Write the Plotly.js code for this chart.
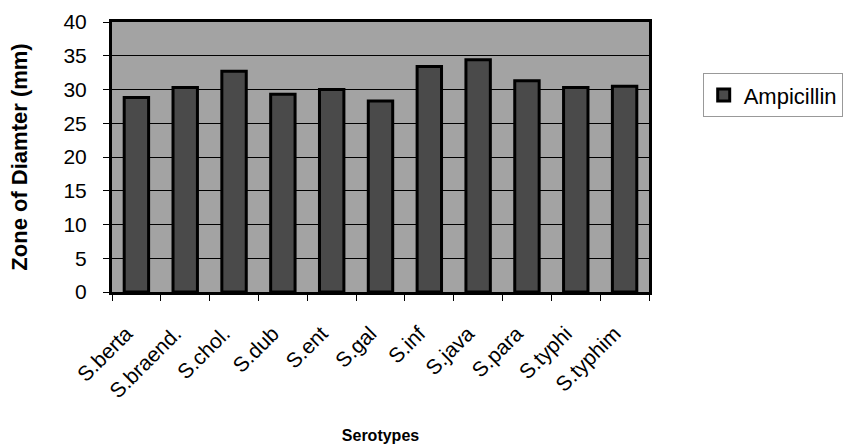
<!DOCTYPE html>
<html>
<head>
<meta charset="utf-8">
<script src="https://cdn.plot.ly/plotly-3.0.1.min.js"></script>
<style>html,body{margin:0;padding:0;background:#fff;}#chart{width:855px;height:444px;}</style>
</head>
<body>
<div id="chart"></div>
<script>
var categories = ["S.berta", "S.braend.", "S.chol.", "S.dub", "S.ent", "S.gal", "S.inf", "S.java", "S.para", "S.typhi", "S.typhim"];
var ampicillin = [28.8, 30.3, 32.7, 29.3, 30.0, 28.3, 33.4, 34.4, 31.3, 30.3, 30.5];
var yTickValues = [0, 5, 10, 15, 20, 25, 30, 35, 40];

var font = "Liberation Sans, Arial, sans-serif";

var traces = [{
  type: "bar",
  name: "Ampicillin",
  x: categories,
  y: ampicillin,
  marker: {color: "#4a4a4a", line: {color: "#000", width: 3}},
  hoverinfo: "x+y"
}];

var layout = {
  width: 855, height: 444,
  margin: {l: 112, r: 203, t: 22, b: 152},
  paper_bgcolor: "#fff",
  plot_bgcolor: "#a3a3a3",
  bargap: 0.5,
  showlegend: true,
  legend: {
    x: 1.1, xanchor: "left", y: 0.81, yanchor: "top",
    font: {family: font, size: 22, color: "#000"},
    bordercolor: "#999", borderwidth: 1, bgcolor: "#fff",
    itemwidth: 30
  },
  xaxis: {
    type: "category",
    tickangle: -45,
    tickson: "boundaries",
    ticks: "outside", ticklen: 6, tickcolor: "#000", tickwidth: 1,
    tickfont: {family: font, size: 21, color: "#000"},
    ticklabelstandoff: 18,
    ticklabelshift: -10,
    showline: true, linecolor: "#000", linewidth: 3, mirror: true,
    showgrid: false,
    title: {text: "<b>Serotypes</b>", font: {family: font, size: 16, color: "#000"}, standoff: 30}
  },
  yaxis: {
    range: [0, 40],
    tickvals: yTickValues,
    ticks: "outside", ticklen: 6, tickcolor: "#000", tickwidth: 1,
    tickfont: {family: font, size: 21, color: "#000"},
    ticklabelstandoff: 12,
    showline: true, linecolor: "#000", linewidth: 3, mirror: true,
    showgrid: true, gridcolor: "#000", gridwidth: 1,
    zeroline: false,
    title: {text: "<b>Zone of Diamter (mm)</b>", font: {family: font, size: 22, color: "#000"}, standoff: 30}
  }
};

Plotly.newPlot("chart", traces, layout, {displayModeBar: false, staticPlot: true});
</script>
</body>
</html>
